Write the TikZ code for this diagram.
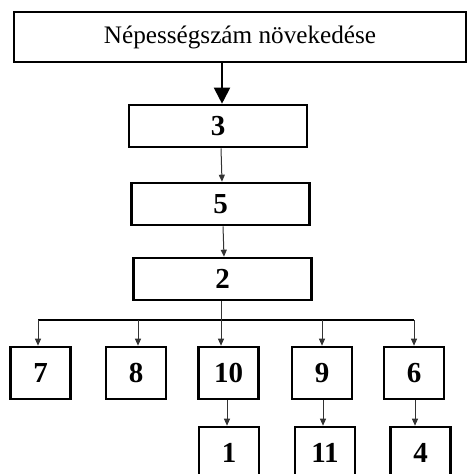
\documentclass[tikz,border=0pt]{standalone}
\usepackage{fontspec}
\setmainfont{Liberation Serif}
\usepackage{tikz}
\usetikzlibrary{positioning}
\usetikzlibrary{arrows.meta}

\begin{document}
\begin{tikzpicture}[x=0.5pt,y=-0.5pt,
							headbox/.style={rectangle, draw=black, line width=0.7pt, fill=white, minimum width=226pt, minimum height=25pt, inner sep=0pt, font=\fontsize{12.6}{15}\selectfont},
							widebox/.style={rectangle, draw=black, line width=1.3pt, fill=white, minimum width=89pt, minimum height=21pt, inner sep=0pt, font=\fontsize{14.5}{16}\selectfont\bfseries},
							sqbox/.style={rectangle, draw=black, line width=1.3pt, fill=white, minimum width=30pt, minimum height=26pt, inner sep=0pt, font=\fontsize{14.5}{16}\selectfont\bfseries},
							thinarrow/.style={draw=black!80, line width=0.5pt, -{Triangle[length=3.5pt,width=3pt]}},
							]
							\clip (0,0) rectangle (468,474);
							\useasboundingbox (0,0) rectangle (468,474);
							%Nodes
							\node[headbox]      (head) 	at 	(240,37)          {Népességszám növekedése};
							\node[widebox]      (n3) 	at 	(218,126)         {3};
							\node[widebox]      (n5) 	at 	(220.5,204)       {5};
							\node[widebox]      (n2) 	at 	(222.5,279)       {2};
							\node[sqbox]        (n7) 	at 	(40.5,373)        {7};
							\node[sqbox]        (n8) 	at 	(136,373)         {8};
							\node[sqbox]        (n10) 	at 	(228.5,373)       {10};
							\node[sqbox]        (n9) 	at 	(322,373)         {9};
							\node[sqbox]        (n6) 	at 	(414,373)         {6};
							\node[sqbox]        (n1) 	at 	(229,453)         {1};
							\node[sqbox]        (n11) 	at 	(325,453)         {11};
							\node[sqbox]        (n4) 	at 	(420.5,453)       {4};
							\coordinate         (busl)  at  (38,320);
							\coordinate         (busr)  at  (414,320);

							%Lines
							\draw[line width=1pt, -{Triangle[length=8pt,width=8pt]}] (head.south -| 222,0) -- (n3.north -| 222,0);
							\draw[thinarrow] (n3.south -| 221,0) -- (n5.north -| 222,0);
							\draw[thinarrow] (n5.south -| 223,0) -- (n2.north -| 224,0);
							\draw[line width=1pt] (busl) -- (busr);
							\draw[thinarrow] (n2.south -| 221,0) -- (n10.north -| 221,0);
							\draw[thinarrow] (busl) -- (n7.north -| busl);
							\draw[thinarrow] (busl -| 138,0) -- (n8.north -| 138,0);
							\draw[thinarrow] (busl -| 322,0) -- (n9.north -| 322,0);
							\draw[thinarrow] (busr) -- (n6.north -| busr);
							\draw[thinarrow] (n10.south -| 227,0) -- (n1.north -| 227,0);
							\draw[thinarrow] (n9.south -| 323,0) -- (n11.north -| 323,0);
							\draw[thinarrow] (n6.south -| 415,0) -- (n4.north -| 415,0);
\end{tikzpicture}
\end{document}
